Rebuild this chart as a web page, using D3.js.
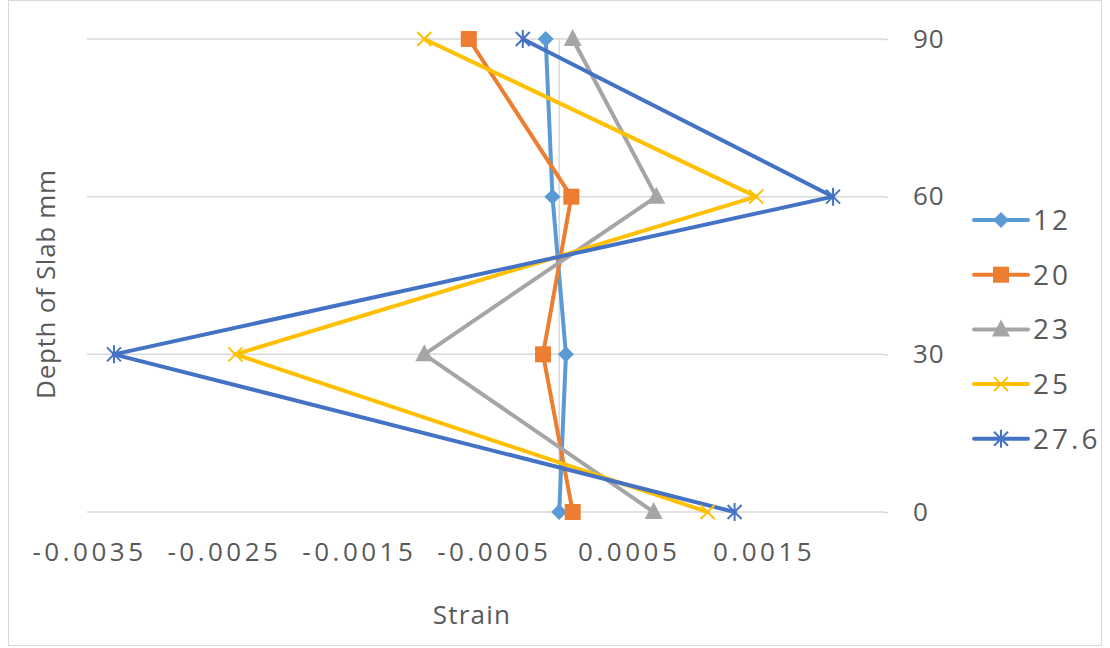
<!DOCTYPE html>
<html>
<head>
<meta charset="utf-8">
<title>Strain vs depth of slab</title>
<script src="https://d3js.org/d3.v7.min.js"></script>
<style>
  body { margin: 0; background: #fff; }
  text { font-family: "Open Sans", "Noto Sans", sans-serif; fill: #595959; }
</style>
</head>
<body>
<div id="chart"></div>
<script>
// depths of the readings (mm)
var depths = [90, 60, 30, 0];
// series names (legend)
var seriesNames = ["12", "20", "23", "25", "27.6"];
// strain per depth, same order as depths
var strain12  = [-0.0001, -0.00005, 0.00005, 0.0];
var strain20  = [-0.00067, 0.00009, -0.00012, 0.0001];
var strain23  = [0.0001, 0.00072, -0.001, 0.0007];
var strain25  = [-0.001, 0.00146, -0.0024, 0.0011];
var strain276 = [-0.00027, 0.00203, -0.0033, 0.0013];
var xTicks = [-0.0035, -0.0025, -0.0015, -0.0005, 0.0005, 0.0015];
var yTicks = [0, 30, 60, 90];

var width = 1110, height = 648;
var colors = ["#5B9BD5", "#ED7D31", "#A5A5A5", "#FFC000", "#4472C4"];
var shapes = ["diamond", "square", "triangle", "x", "star"];
var allSeries = [strain12, strain20, strain23, strain25, strain276];

var svg = d3.select("#chart").append("svg")
    .attr("width", width)
    .attr("height", height);

// outer chart border
svg.append("rect")
    .attr("x", 8.5).attr("y", 0.5)
    .attr("width", 1093).attr("height", 645)
    .attr("fill", "none")
    .attr("stroke", "#d9d9d9");

var x = d3.scaleLinear().domain([-0.0035, 0.0024]).range([87, 883]);
var y = d3.scaleLinear().domain([0, 90]).range([512, 39]);

// horizontal gridlines
svg.selectAll("line.grid")
    .data(yTicks)
    .enter()
    .append("line")
    .attr("class", "grid")
    .attr("x1", x.range()[0]).attr("x2", x.range()[1])
    .attr("y1", d => y(d)).attr("y2", d => y(d))
    .attr("stroke", "#d9d9d9")
    .attr("stroke-width", 1.5);

// vertical axis line at zero
svg.append("line")
    .attr("x1", x(0)).attr("x2", x(0))
    .attr("y1", y(90)).attr("y2", y(0))
    .attr("stroke", "#d9d9d9")
    .attr("stroke-width", 1.5);

// y tick labels on the right side
var yAxis = d3.axisRight(y).tickValues(yTicks).tickSize(5).tickPadding(25);
var gy = svg.append("g")
    .attr("transform", "translate(" + x.range()[1] + ",0)")
    .call(yAxis);
gy.select(".domain").remove();
gy.selectAll(".tick line").attr("stroke", "#d9d9d9").attr("stroke-width", 1.5);
gy.selectAll(".tick text")
    .style("font-size", "26px")
    .style("letter-spacing", "1px")
    .style("fill", "#595959");

// x tick labels at the bottom (plain hyphen minus like the original)
var xAxis = d3.axisBottom(x).tickValues(xTicks).tickSize(0).tickPadding(0)
    .tickFormat(d => d.toFixed(4));
var gx = svg.append("g")
    .attr("transform", "translate(2,541)")
    .call(xAxis);
gx.select(".domain").remove();
gx.selectAll(".tick text")
    .attr("dy", "0.75em")
    .style("font-size", "26px")
    .style("letter-spacing", "3.5px")
    .style("fill", "#595959");

// axis titles
svg.append("text")
    .attr("x", 472).attr("y", 624)
    .attr("text-anchor", "middle")
    .style("font-size", "26px")
    .style("letter-spacing", "1.2px")
    .text("Strain");

svg.append("text")
    .attr("transform", "translate(55,284) rotate(-90)")
    .attr("text-anchor", "middle")
    .style("font-size", "26px")
    .style("letter-spacing", "0.7px")
    .text("Depth of Slab mm");

function drawMarker(g, shape, color) {
    if (shape === "diamond") {
        g.append("path").attr("d", "M0,-8L8,0L0,8L-8,0Z").attr("fill", color);
    } else if (shape === "square") {
        g.append("rect").attr("x", -8).attr("y", -8).attr("width", 16).attr("height", 16).attr("fill", color);
    } else if (shape === "triangle") {
        g.append("path").attr("d", "M0,-10L9,7L-9,7Z").attr("fill", color);
    } else if (shape === "x") {
        g.append("path").attr("d", "M-7,-7L7,7M-7,7L7,-7")
            .attr("stroke", color).attr("stroke-width", 2).attr("fill", "none");
    } else {
        g.append("path").attr("d", "M-7,-7L7,7M-7,7L7,-7M0,-9L0,9")
            .attr("stroke", color).attr("stroke-width", 2).attr("fill", "none");
    }
}

var line = d3.line()
    .x(d => x(d[0]))
    .y(d => y(d[1]));

allSeries.forEach(function(vals, i) {
    var pts = vals.map((v, k) => [v, depths[k]]);
    svg.append("path")
        .datum(pts)
        .attr("d", line)
        .attr("fill", "none")
        .attr("stroke", colors[i])
        .attr("stroke-width", 4)
        .attr("stroke-linejoin", "round")
        .attr("stroke-linecap", "round");
});

allSeries.forEach(function(vals, i) {
    vals.forEach(function(v, k) {
        var g = svg.append("g")
            .attr("transform", "translate(" + x(v) + "," + y(depths[k]) + ")");
        drawMarker(g, shapes[i], colors[i]);
    });
});

// legend
var legend = svg.selectAll("g.legend")
    .data(seriesNames)
    .enter()
    .append("g")
    .attr("class", "legend")
    .attr("transform", (d, i) => "translate(1001," + (220 + i * 54.7) + ")");

legend.append("line")
    .attr("x1", -27).attr("x2", 27)
    .attr("stroke", (d, i) => colors[i])
    .attr("stroke-width", 4)
    .attr("stroke-linecap", "round");

legend.each(function(d, i) {
    drawMarker(d3.select(this), shapes[i], colors[i]);
});

legend.append("text")
    .attr("x", 32)
    .attr("dy", "0.36em")
    .style("font-size", "28px")
    .style("letter-spacing", "3px")
    .text(d => d);
</script>
</body>
</html>
